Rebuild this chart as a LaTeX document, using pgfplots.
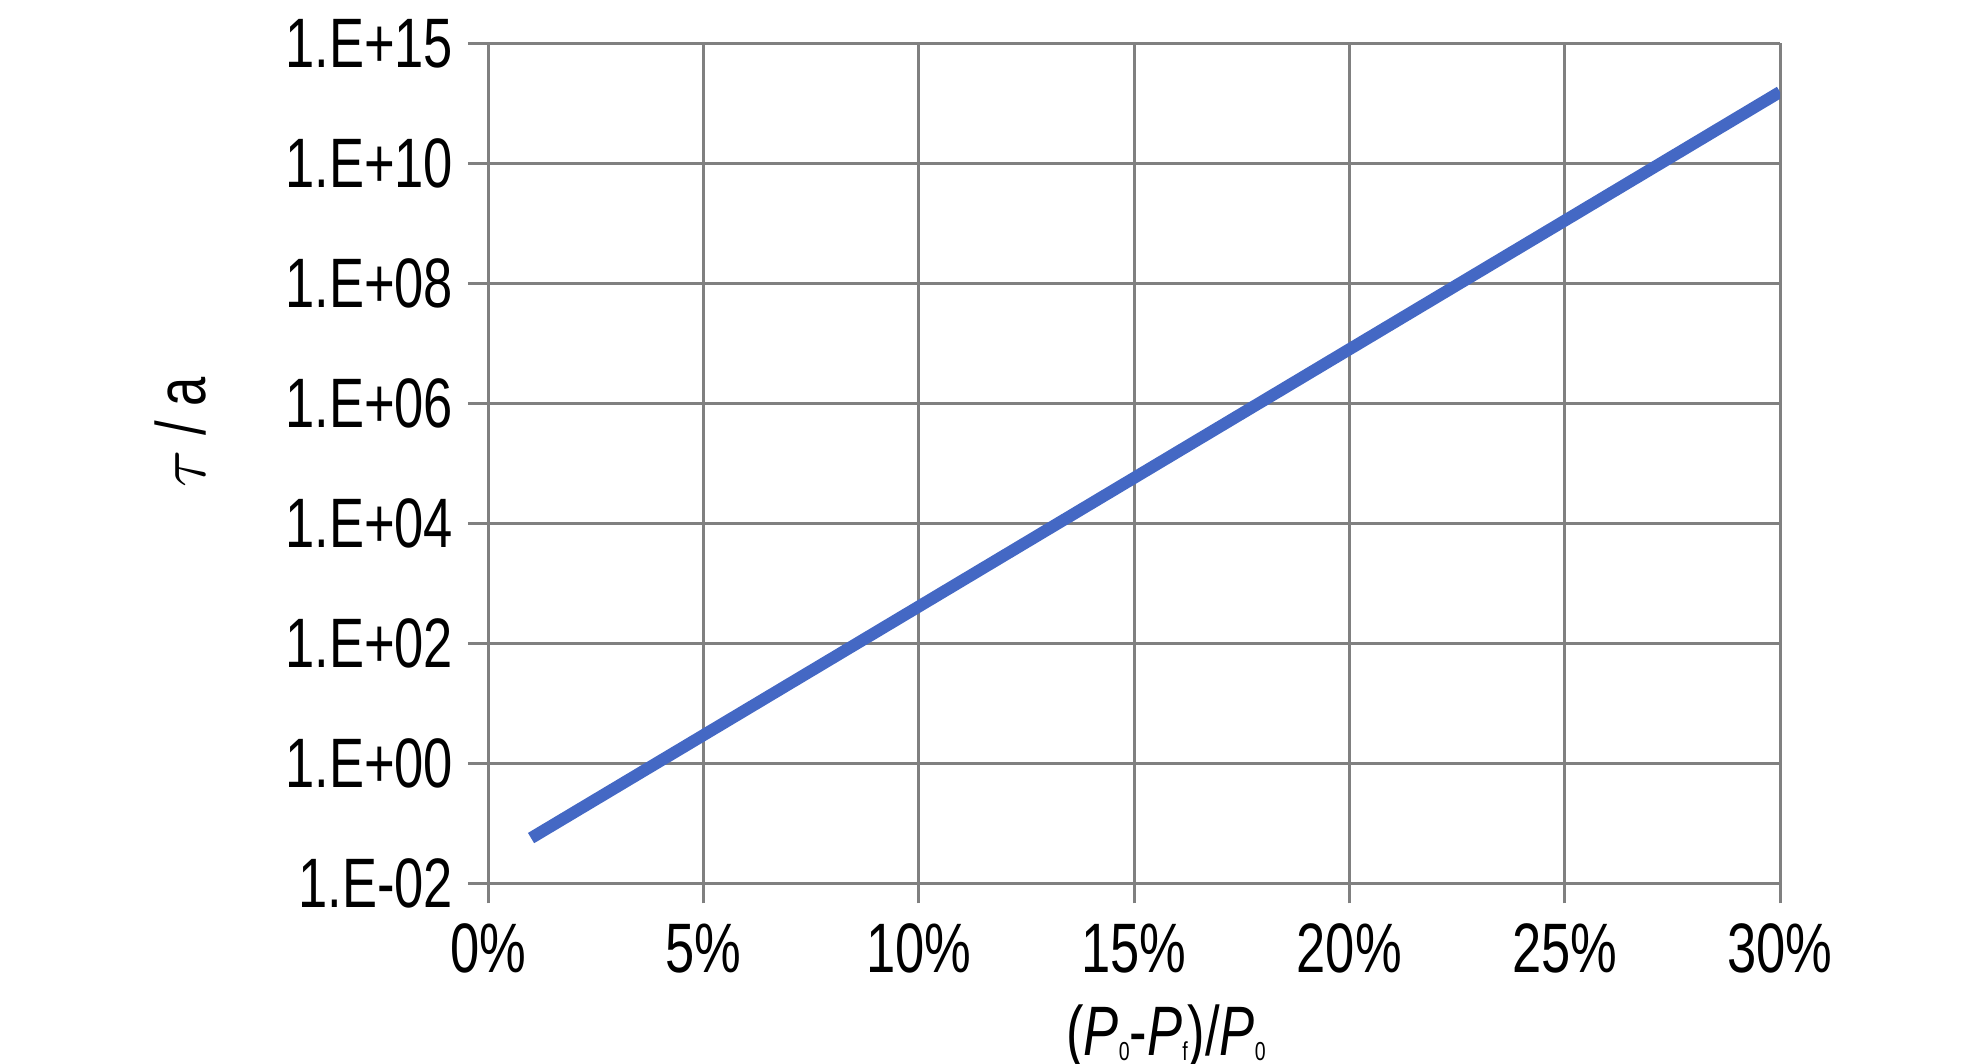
\documentclass[border=0pt]{standalone}
\usepackage{fontspec}
\setmainfont{Liberation Sans}[FakeStretch=0.75]
\usepackage{pgfplots}
\pgfplotsset{compat=1.18}
\definecolor{gridgray}{RGB}{128,128,128}
\definecolor{lineblue}{RGB}{68,104,196}
\newcommand{\lsub}[1]{\raisebox{-1.3pt}{\fontsize{6.5}{7}\selectfont #1}}
\begin{document}
\begin{tikzpicture}
\path[use as bounding box] (0,0) rectangle (496pt,265.75pt);
\begin{axis}[
  at={(122pt,44.9pt)}, anchor=south west,
  scale only axis, width=323pt, height=210pt,
  ymode=log,
  xmin=0, xmax=30, ymin=1e-2, ymax=1e12,
  xtick={0,5,10,15,20,25,30},
  xticklabels={0\%,5\%,10\%,15\%,20\%,25\%,30\%},
  ytick={1e-2,1,1e2,1e4,1e6,1e8,1e10,1e12},
  yticklabels={1.E-02,1.E+00,1.E+02,1.E+04,1.E+06,1.E+08,1.E+10,1.E+15},
  minor tick num=0, yminorticks=false,
  tick align=outside, major tick length=5pt,
  tick style={gridgray, line width=0.75pt},
  axis line style={gridgray, line width=0.75pt},
  grid=major, major grid style={gridgray, line width=0.75pt},
  axis x line*=bottom, axis y line*=left,
  every axis plot/.append style={line width=3pt},
  ticklabel style={font=\fontsize{17.5}{18}\selectfont, inner sep=0pt},
  xticklabel style={anchor=base, yshift=-17.2pt},
  yticklabel style={anchor=east, xshift=-3.5pt},
  xlabel={\fontsize{17.5}{18}\selectfont(\textit{P}\lsub{0}-\textit{P}\lsub{f})/\textit{P}\lsub{0}},
  xlabel style={at={(axis description cs:0.5248,0)}, anchor=base, yshift=-42.9pt, inner sep=0pt},
  ylabel={\fontsize{17.5}{18}\selectfont$\tau$ / a},
  ylabel style={at={(axis description cs:-0.2384,0.537)}, anchor=center, inner sep=0pt},
]
\addplot[lineblue, no marks] coordinates {
  (1, 0.057) (5, 2.95) (10, 411) (15, 5.73e4) (20, 7.98e6) (25, 1.11e9) (30, 1.55e11)
};
\end{axis}
\end{tikzpicture}
\end{document}
